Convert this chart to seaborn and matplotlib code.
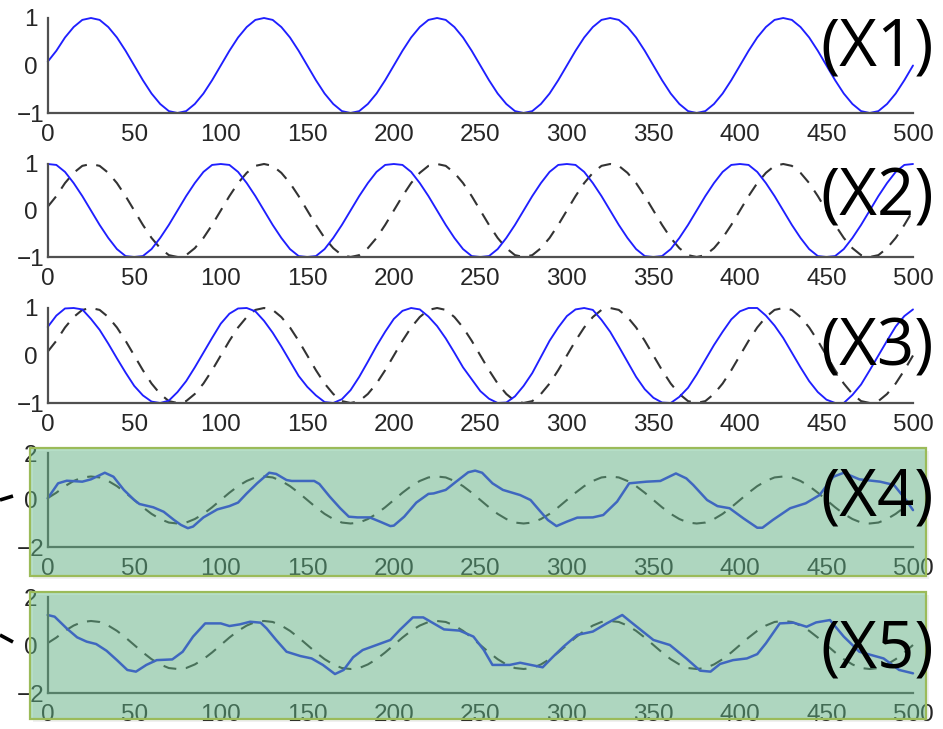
import numpy as np
import pandas as pd
import matplotlib
matplotlib.use("Agg")
import matplotlib.pyplot as plt
import seaborn as sns
from matplotlib.patches import Rectangle
from matplotlib.lines import Line2D

# ---------------------------------------------------------------- data
# regular sample grid for the clean signals
t_grid = np.arange(0, 501, 5)

# X1: reference sinusoid (also drawn dashed under X2..X5)
x1_vals = [
    0.08, 0.31, 0.59, 0.81, 0.96, 1.0, 0.96, 0.81, 0.59, 0.31,
    0.0, -0.31, -0.59, -0.81, -0.96, -1.0, -0.96, -0.81, -0.59, -0.31,
    0.0, 0.31, 0.59, 0.81, 0.96, 1.0, 0.96, 0.81, 0.59, 0.31,
    0.0, -0.31, -0.59, -0.81, -0.96, -1.0, -0.96, -0.81, -0.59, -0.31,
    0.0, 0.31, 0.59, 0.81, 0.96, 1.0, 0.96, 0.81, 0.59, 0.31,
    0.0, -0.31, -0.59, -0.81, -0.96, -1.0, -0.96, -0.81, -0.59, -0.31,
    0.0, 0.31, 0.59, 0.81, 0.96, 1.0, 0.96, 0.81, 0.59, 0.31,
    0.0, -0.31, -0.59, -0.81, -0.96, -1.0, -0.96, -0.81, -0.59, -0.31,
    0.0, 0.31, 0.59, 0.81, 0.96, 1.0, 0.96, 0.81, 0.59, 0.31,
    0.0, -0.31, -0.59, -0.81, -0.96, -1.0, -0.96, -0.81, -0.59, -0.31,
    0.0,
]

# X2: quarter-period shifted copy
x2_vals = [
    1.0, 0.98, 0.83, 0.59, 0.31, 0.0, -0.31, -0.59, -0.83, -0.98,
    -1.0, -0.98, -0.83, -0.59, -0.31, 0.0, 0.31, 0.59, 0.83, 0.98,
    1.0, 0.98, 0.83, 0.59, 0.31, 0.0, -0.31, -0.59, -0.83, -0.98,
    -1.0, -0.98, -0.83, -0.59, -0.31, 0.0, 0.31, 0.59, 0.83, 0.98,
    1.0, 0.98, 0.83, 0.59, 0.31, 0.0, -0.31, -0.59, -0.83, -0.98,
    -1.0, -0.98, -0.83, -0.59, -0.31, 0.0, 0.31, 0.59, 0.83, 0.98,
    1.0, 0.98, 0.83, 0.59, 0.31, 0.0, -0.31, -0.59, -0.83, -0.98,
    -1.0, -0.98, -0.83, -0.59, -0.31, 0.0, 0.31, 0.59, 0.83, 0.98,
    1.0, 0.98, 0.83, 0.59, 0.31, 0.0, -0.31, -0.59, -0.83, -0.98,
    -1.0, -0.98, -0.83, -0.59, -0.31, 0.0, 0.31, 0.59, 0.83, 0.98,
    1.0,
]

# X3: slightly shifted, slightly faster variant
x3_vals = [
    0.60, 0.84, 0.99, 1.0, 0.97, 0.77, 0.54, 0.25, -0.06, -0.36,
    -0.64, -0.84, -0.97, -1.0, -0.95, -0.77, -0.54, -0.25, 0.06, 0.37,
    0.67, 0.88, 0.99, 1.0, 0.93, 0.73, 0.48, 0.19, -0.12, -0.43,
    -0.66, -0.84, -0.98, -1.0, -0.92, -0.73, -0.45, -0.13, 0.20, 0.50,
    0.77, 0.94, 1.0, 0.97, 0.82, 0.62, 0.36, 0.06, -0.25, -0.50,
    -0.75, -0.91, -1.0, -0.99, -0.86, -0.64, -0.37, -0.03, 0.31, 0.59,
    0.83, 0.97, 1.0, 0.96, 0.75, 0.50, 0.19, -0.13, -0.45, -0.71,
    -0.89, -0.99, -1.0, -0.87, -0.68, -0.40, -0.09, 0.22, 0.50, 0.76,
    0.93, 1.0, 1.0, 0.84, 0.63, 0.37, 0.06, -0.25, -0.54, -0.77,
    -0.93, -1.0, -1.0, -0.83, -0.61, -0.31, 0.0, 0.31, 0.61, 0.83,
    0.97,
]

# X4: noisy signal
x4_t = [0, 6, 11, 20, 25, 33, 38, 44, 50, 53, 61, 67, 73, 77, 81, 84, 90, 98,
        105, 110, 115, 121, 128, 132, 138, 141, 154, 157, 163, 169, 174, 179,
        186, 192, 198, 200, 206, 213, 220, 223, 230, 236, 243, 247, 251, 257,
        263, 273, 279, 284, 289, 294, 300, 306, 315, 321, 329, 336, 346, 354,
        363, 369, 373, 381, 387, 394, 402, 410, 413, 419, 429, 438, 446, 454,
        460, 469, 481, 489, 496, 500]
x4_vals = [0.07, 0.71, 0.82, 0.78, 0.88, 1.16, 0.99, 0.43, 0.0, -0.17, -0.31,
           -0.50, -0.85, -1.06, -1.20, -1.13, -0.74, -0.40, -0.26, -0.11, 0.28,
           0.71, 1.16, 1.11, 0.85, 0.81, 0.81, 0.68, 0.14, -0.35, -0.71, -0.74,
           -0.74, -0.92, -1.11, -1.09, -0.71, -0.11, 0.26, 0.28, 0.43, 0.78,
           1.18, 1.25, 1.16, 0.71, 0.43, 0.21, 0.0, -0.43, -0.85, -1.11, -0.92,
           -0.75, -0.74, -0.64, -0.07, 0.71, 0.78, 0.81, 1.13, 0.92, 0.64, 0.0,
           -0.26, -0.35, -0.78, -1.18, -1.18, -0.85, -0.35, -0.14, 0.21, 0.99,
           1.16, 0.88, 0.78, 0.64, 0.0, -0.43]

# X5: second noisy signal
x5_t = [0, 4, 11, 17, 22.5, 28, 34, 40, 46, 51, 57, 63, 72, 78, 84, 91, 100,
        105, 111, 117, 123, 126.5, 132, 138, 146, 152.5, 159, 166, 171, 176.5,
        182, 190, 198, 203.5, 211, 217, 223, 229, 238, 246, 252, 257, 267,
        273, 286, 292, 298, 306, 315, 323, 332, 338, 350, 359.5, 369, 377,
        383, 388.5, 396, 404, 410, 415, 423, 431, 438.5, 444, 452, 460, 469,
        483, 492, 500]
x5_vals = [1.25, 1.18, 0.69, 0.32, 0.14, 0.04, -0.24, -0.63, -1.04, -1.11,
           -0.83, -0.63, -0.60, -0.28, 0.35, 0.90, 0.90, 0.79, 0.86, 0.97,
           0.93, 0.69, 0.21, -0.28, -0.46, -0.56, -0.83, -1.21, -1.04, -0.51,
           -0.21, 0.0, 0.21, 0.63, 1.15, 1.15, 0.90, 0.65, 0.60, 0.35, -0.21,
           -0.83, -0.83, -0.74, -0.93, -0.49, -0.07, 0.42, 0.56, 0.90, 1.25,
           0.90, 0.21, 0.0, -0.56, -1.07, -1.11, -0.79, -0.63, -0.56, -0.38,
           0.07, 0.90, 0.93, 0.76, 0.94, 1.04, 0.35, -0.28, -0.56, -1.04,
           -1.18]

panel_labels = ["(X1)", "(X2)", "(X3)", "(X4)", "(X5)"]
x_ticks = [0, 50, 100, 150, 200, 250, 300, 350, 400, 450, 500]

# ---------------------------------------------------------------- style
sns.set_theme(style="white")
plt.rcParams["font.family"] = ["Liberation Sans", "DejaVu Sans"]
plt.rcParams["axes.unicode_minus"] = True

W, H = 943, 729
fig = plt.figure(figsize=(W / 100, H / 100), dpi=100)
fig.patch.set_facecolor("white")


def px_rect(left, top, right, bottom):
    """Figure-fraction rectangle from pixel edges (origin top-left)."""
    return [left / W, 1 - bottom / H, (right - left) / W, (bottom - top) / H]


AX_L, AX_R = 47.7, 913.0
panel_px = [(18, 113), (164, 257), (308, 403), (453, 547), (597, 693)]
label_y = [48, 199, 349, 499, 650]

blue = "#1f1fff"
dash_col = "#333333"
spine_col = "#505050"

series = [
    (x1_vals, None, None),
    (x2_vals, None, x1_vals),
    (x3_vals, None, x1_vals),
    (x4_vals, x4_t, x1_vals),
    (x5_vals, x5_t, x1_vals),
]

for i, ((main, main_t, ref), (top, bot)) in enumerate(zip(series, panel_px)):
    ax = fig.add_axes(px_rect(AX_L, top, AX_R, bot))
    ax.set_facecolor("none")
    noisy = main_t is not None
    if ref is not None:
        sns.lineplot(x=t_grid, y=ref, ax=ax, color=dash_col, lw=1.5,
                     sort=False, estimator=None, clip_on=False)
        ax.lines[-1].set_dashes((6.3, 4.6))
    tt = main_t if noisy else t_grid
    sns.lineplot(x=tt, y=main, ax=ax, color=blue, lw=1.8 if noisy else 1.35,
                 sort=False, estimator=None, clip_on=False)

    ax.set_xlim(0, 500)
    lim = 2 if noisy else 1
    ax.set_ylim(-lim, lim)
    ax.set_xticks(x_ticks)
    ax.set_yticks([-lim, 0, lim])
    ax.set_xlabel("")
    ax.set_ylabel("")
    for s in ("top", "right"):
        ax.spines[s].set_visible(False)
    for s in ("left", "bottom"):
        ax.spines[s].set_color(spine_col)
        ax.spines[s].set_linewidth(1.6)
    ax.tick_params(axis="both", direction="in", length=5, width=1.3,
                   color=spine_col, labelsize=17.5, labelcolor="#262626")
    ax.tick_params(axis="x", pad=8)
    ax.tick_params(axis="y", pad=12.3)
    for lbl in ax.get_yticklabels():
        lbl.set_horizontalalignment("center")

# translucent green highlight boxes over the two noisy panels
for top, bot in [(448, 576), (592, 719)]:
    box = px_rect(30, top, 926, bot)
    fig.patches.append(Rectangle((box[0] + 3 / W, box[1] - 3 / H), box[2], box[3],
                                 transform=fig.transFigure, facecolor="#000000",
                                 alpha=0.06, edgecolor="none", zorder=4))
    fig.patches.append(Rectangle((box[0], box[1]), box[2], box[3],
                                 transform=fig.transFigure, facecolor=(0.40, 0.73, 0.54),
                                 alpha=0.48, edgecolor="none", zorder=5))
    fig.patches.append(Rectangle((box[0], box[1]), box[2], box[3],
                                 transform=fig.transFigure, facecolor="none",
                                 edgecolor="#9bbb59", lw=1.6, zorder=6))

# arrow tails entering from the left margin
for (x0, y0), (x1, y1) in [((0, 500), (13, 496)), ((0, 635), (13, 642))]:
    fig.add_artist(Line2D([x0 / W, x1 / W], [1 - y0 / H, 1 - y1 / H],
                          transform=fig.transFigure, color="black", lw=2.6,
                          solid_capstyle="butt", zorder=7))

for lab, yc in zip(panel_labels, label_y):
    fig.text(877 / W, 1 - yc / H, lab, fontsize=47, family=["Open Sans", "DejaVu Sans"],
             ha="center", va="center", color="black", zorder=10)

fig.savefig("out.png", dpi=100)
